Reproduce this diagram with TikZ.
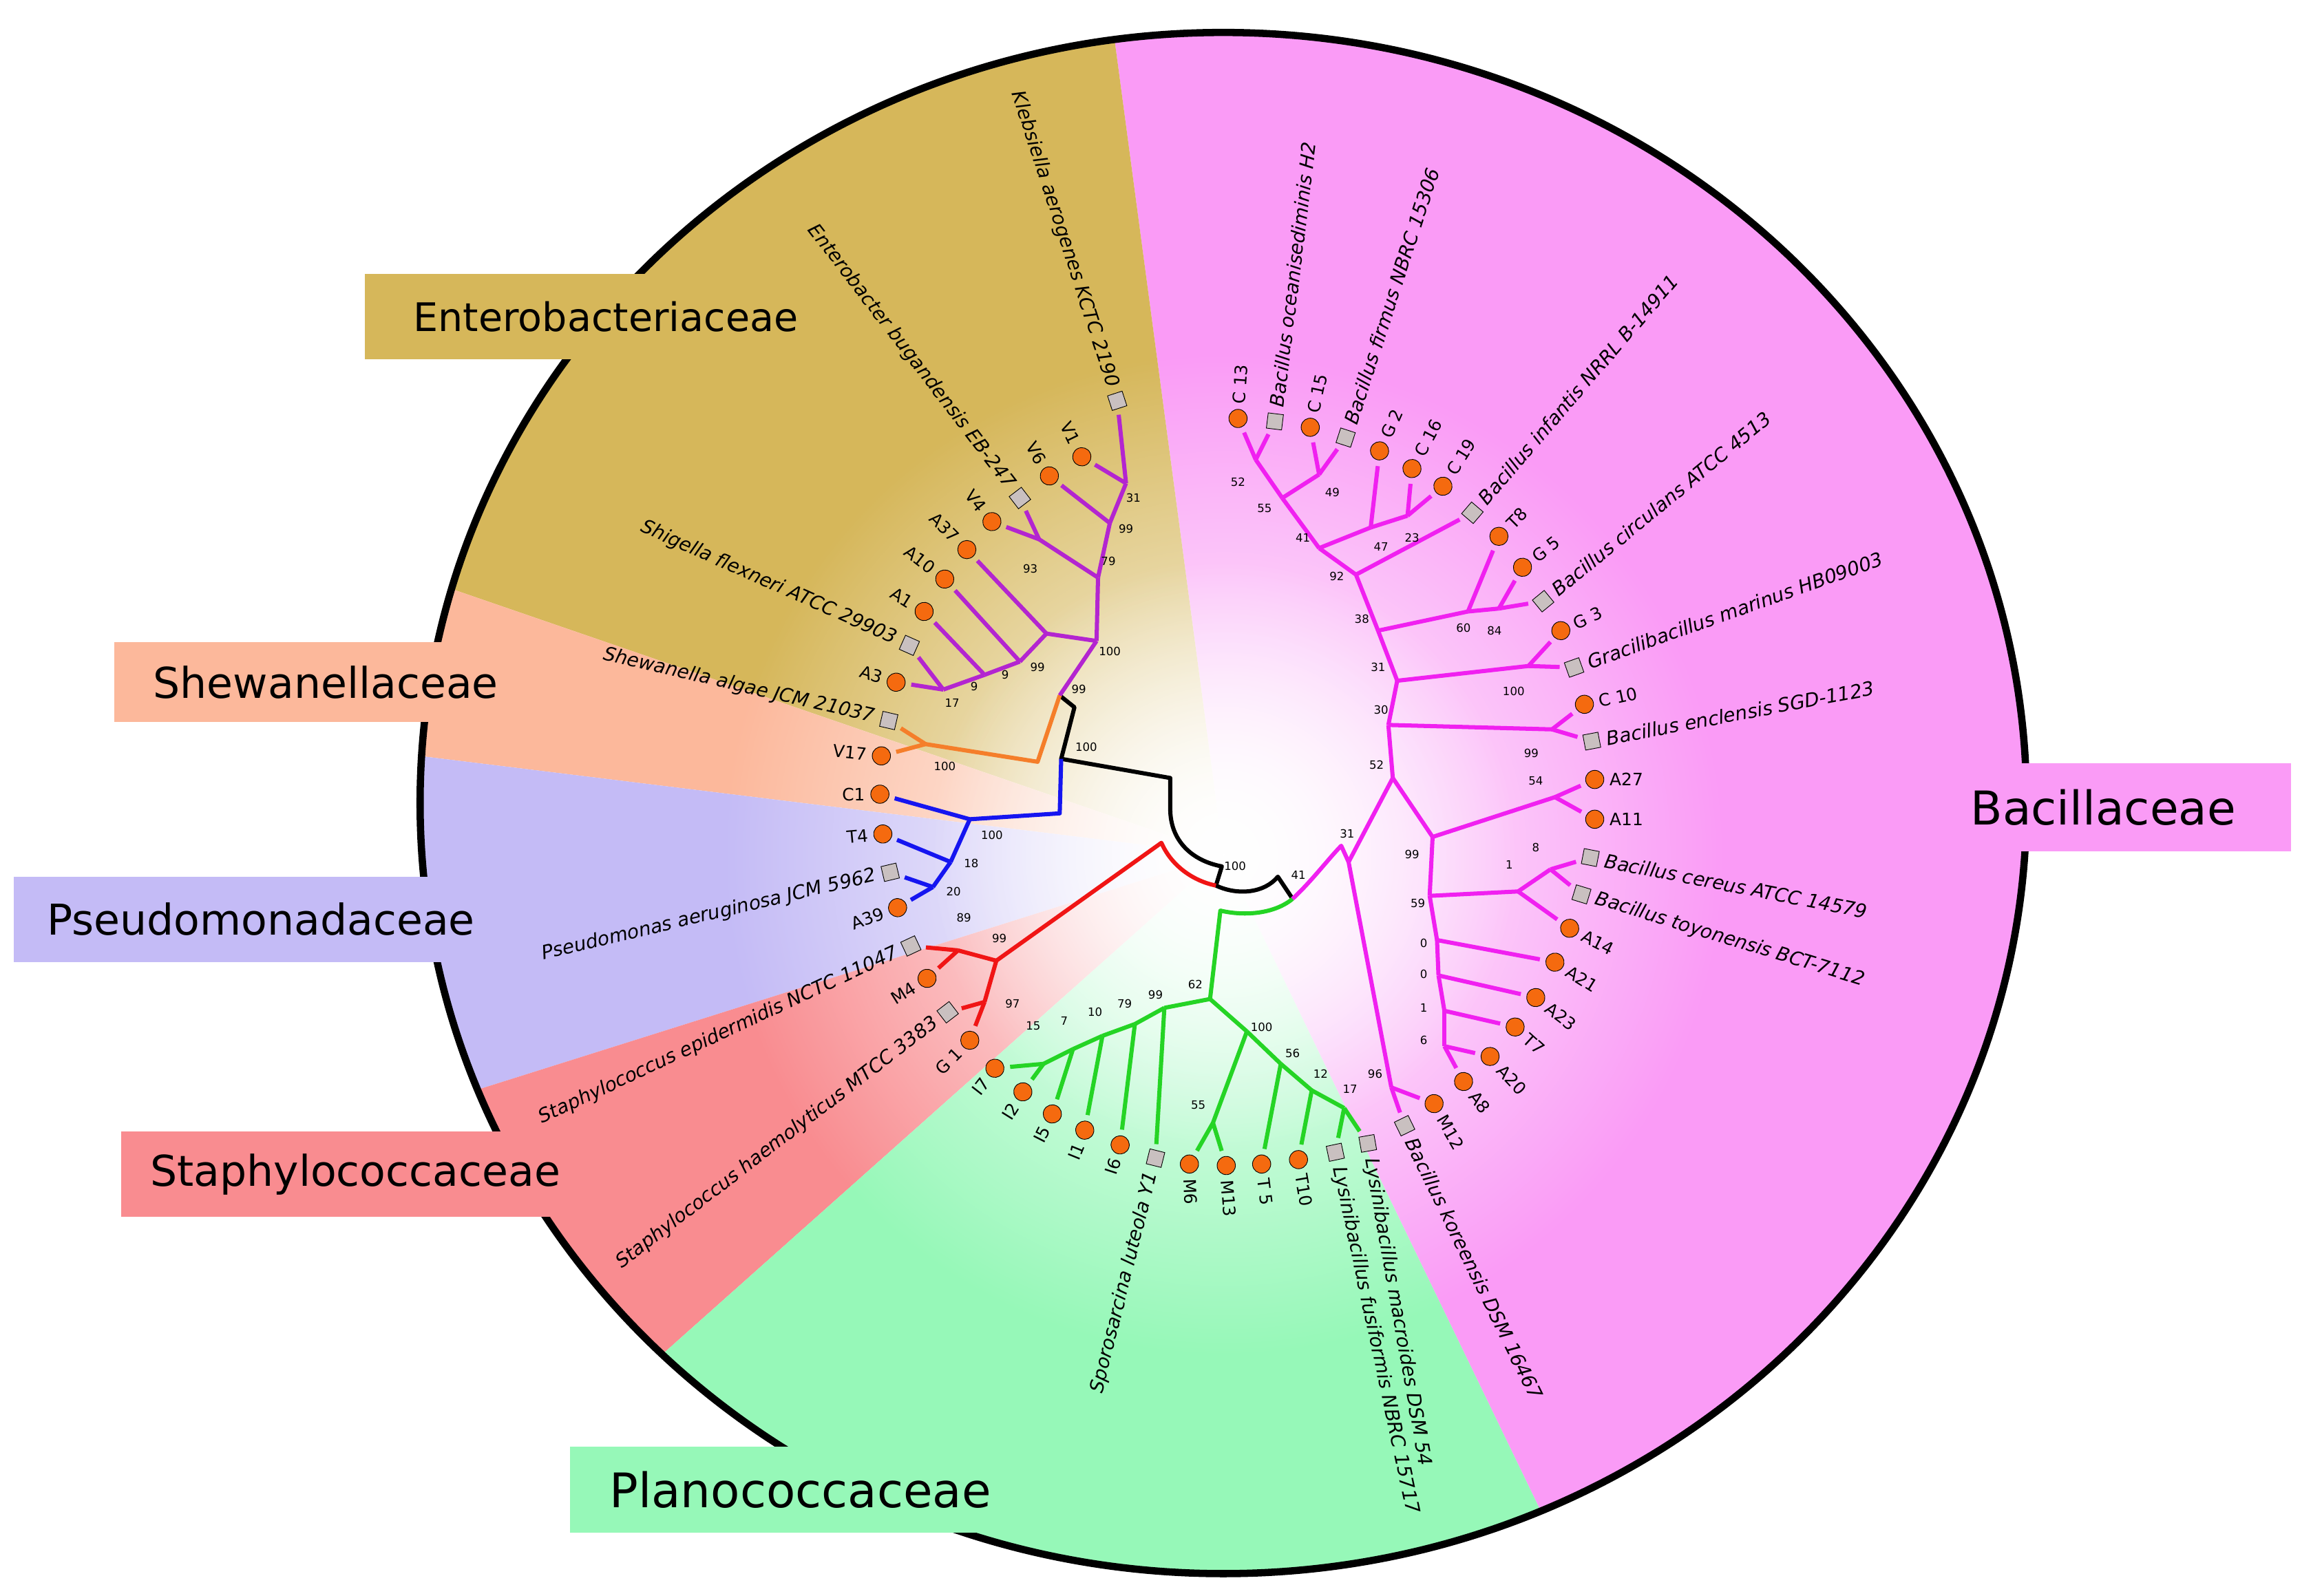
\documentclass[tikz,border=0pt]{standalone}
\usepackage{fontspec}
\setmainfont{DejaVu Sans}
\usetikzlibrary{calc,fadings}
\definecolor{tanC}{HTML}{D6B75A}\definecolor{salC}{HTML}{FCB89B}\definecolor{lavC}{HTML}{C4BBF6}
\definecolor{redC}{HTML}{F98C90}\definecolor{grnC}{HTML}{96F8B8}\definecolor{pnkC}{HTML}{FA9BF6}
\definecolor{purB}{HTML}{B325D0}\definecolor{oraB}{HTML}{F57E2A}\definecolor{bluB}{HTML}{1515F0}
\definecolor{redB}{HTML}{F01515}\definecolor{grnB}{HTML}{25D425}\definecolor{pnkB}{HTML}{F020F0}
\definecolor{dotC}{HTML}{F56A0F}\definecolor{sqC}{HTML}{C9C0C0}
\tikzfading[name=myfade, inner color=transparent!0, outer color=transparent!100]
\tikzset{
 circ/.style={circle,draw=black,line width=0.6pt,fill=dotC,minimum size=0.62cm,inner sep=0},
 sq/.style={rectangle,draw=black,line width=0.6pt,fill=sqC,minimum size=0.52cm,inner sep=0},
 lab/.style={inner sep=0,font=\fontsize{16.5}{17}\selectfont},
 spl/.style={inner sep=0,font=\fontsize{18.5}{19}\selectfont\itshape},
 sup/.style={inner sep=0,font=\fontsize{11}{12}\selectfont},
 br/.style={line width=4pt,line join=round},
 tl/.style={br,shorten >=0.2cm},
 fam/.style={inner sep=0,minimum height=2.9cm,text=black}
}
\newcommand\LL[7]{\node[#4,rotate=#5] (#1) at (#2,-#3) {};
 \node[#6,rotate=#5,anchor=east] (#1t) at ($(#1)+(#5+180:10)$) {#7};}
\newcommand\RR[7]{\node[#4,rotate=#5] (#1) at (#2,-#3) {};
 \node[#6,rotate=#5,anchor=west] (#1t) at ($(#1)+(#5:10)$) {#7};}
\newcommand\bs[3]{\node[sup] at (#1,-#2) {#3};}
\begin{document}
\begin{tikzpicture}[x=0.05cm,y=0.05cm]
\useasboundingbox (0,0) rectangle (1568,-1083);
\coordinate (C) at (830,-580);
\begin{scope}
\clip (830,-545) ellipse [x radius=27.25cm, y radius=26.15cm];
\fill[pnkC] (C) -- +(-64.2:900) arc[start angle=-64.2,end angle=97.6,radius=900] -- cycle;
\fill[tanC] (C) -- +(97.6:900) arc[start angle=97.6,end angle=161,radius=900] -- cycle;
\fill[salC] (C) -- +(161:900) arc[start angle=161,end angle=173,radius=900] -- cycle;
\fill[lavC] (C) -- +(173:900) arc[start angle=173,end angle=197.5,radius=900] -- cycle;
\fill[redC] (C) -- +(197.5:900) arc[start angle=197.5,end angle=221.7,radius=900] -- cycle;
\fill[grnC] (C) -- +(221.7:900) arc[start angle=221.7,end angle=295.8,radius=900] -- cycle;
\fill[white,path fading=myfade] (C) circle (340);
\fill[white,path fading=myfade] (C) circle (200);
\end{scope}
\draw[line width=7pt] (830,-545) ellipse [x radius=27.25cm, y radius=26.15cm];
% family boxes
\node[fam,fill=tanC,minimum width=16.35cm,font=\fontsize{38}{40}\selectfont] (fE) at (411,-215) {Enterobacteriaceae};
\node[fam,fill=salC,minimum width=14.35cm,minimum height=2.7cm,font=\fontsize{41}{43}\selectfont] (fS) at (221,-463) {Shewanellaceae};
\node[fam,fill=lavC,minimum width=16.75cm,font=\fontsize{41}{43}\selectfont] (fP) at (177,-624) {Pseudomonadaceae};
\node[fam,fill=redC,minimum width=15.9cm,font=\fontsize{41}{43}\selectfont] (fSt) at (241,-797) {Staphylococcaceae};
\node[fam,fill=grnC,minimum width=15.65cm,font=\fontsize{46}{48}\selectfont] (fPl) at (543,-1011) {Planococcaceae};
\node[fam,fill=pnkC,minimum width=12.75cm,minimum height=3cm,font=\fontsize{45}{47}\selectfont] (fB) at (1427,-548) {Bacillaceae};
% leaves
\LL{Kle}{758}{272}{sq}{-72}{spl}{Klebsiella aerogenes KCTC 2190}
\LL{V1}{734}{310}{circ}{-64}{lab}{V1}
\LL{V6}{712}{323}{circ}{-60}{lab}{V6}
\LL{Ent}{692}{338}{sq}{-52.5}{spl}{Enterobacter bugandensis EB-247}
\LL{V4}{673}{354}{circ}{-52}{lab}{V4}
\LL{A37}{656}{373}{circ}{-45}{lab}{A37}
\LL{A10}{641}{393}{circ}{-38}{lab}{A10}
\LL{A1}{627}{415}{circ}{-32}{lab}{A1}
\LL{Shi}{617}{438}{sq}{-24}{spl}{Shigella flexneri ATCC 29903}
\LL{A3}{608}{463}{circ}{-18}{lab}{A3}
\LL{She}{603}{489}{sq}{-13}{spl}{Shewanella algae JCM 21037}
\LL{V17}{598}{513}{circ}{-6}{lab}{V17}
\LL{C1}{597}{539}{circ}{0}{lab}{C1}
\LL{T4}{599}{566}{circ}{5}{lab}{T4}
\LL{Pse}{604}{592}{sq}{13.3}{spl}{Pseudomonas aeruginosa JCM 5962}
\LL{A39}{609}{616}{circ}{20}{lab}{A39}
\LL{Sep}{618}{642}{sq}{25}{spl}{Staphylococcus epidermidis NCTC 11047}
\LL{M4}{629}{664}{circ}{32}{lab}{M4}
\LL{Sha}{643}{687}{sq}{37.5}{spl}{Staphylococcus haemolyticus MTCC 3383}
\LL{G1}{658}{706}{circ}{45}{lab}{G 1}
\LL{I7}{675}{725}{circ}{52}{lab}{I7}
\LL{I2}{694}{741}{circ}{58}{lab}{I2}
\LL{I5}{714}{756}{circ}{63}{lab}{I5}
\LL{I1}{736}{767}{circ}{68}{lab}{I1}
\LL{I6}{760}{777}{circ}{72}{lab}{I6}
\LL{Spo}{784}{786}{sq}{76}{spl}{Sporosarcina luteola Y1}
\RR{M6}{807}{790}{circ}{-88}{lab}{M6}
\RR{M13}{832}{791}{circ}{-86}{lab}{M13}
\RR{T5}{856}{790}{circ}{-83}{lab}{T 5}
\RR{T10}{881}{787}{circ}{-80}{lab}{T10}
\RR{Lfu}{906}{782}{sq}{-78}{spl}{Lysinibacillus fusiformis NBRC 15717}
\RR{Lma}{928}{776}{sq}{-80}{spl}{Lysinibacillus macroides DSM 54}
\RR{Bko}{953}{764}{sq}{-64}{spl}{Bacillus koreensis DSM 16467}
\RR{M12}{973}{749}{circ}{-60}{lab}{M12}
\RR{A8}{993}{734}{circ}{-52}{lab}{A8}
\RR{A20}{1011}{717}{circ}{-47}{lab}{A20}
\RR{T7}{1028}{697}{circ}{-42}{lab}{T7}
\RR{A23}{1042}{677}{circ}{-37}{lab}{A23}
\RR{A21}{1055}{653}{circ}{-32}{lab}{A21}
\RR{A14}{1065}{630}{circ}{-27}{lab}{A14}
\RR{Bto}{1073}{607}{sq}{-17}{spl}{Bacillus toyonensis BCT-7112}
\RR{Bce}{1079}{582}{sq}{-11}{spl}{Bacillus cereus ATCC 14579}
\RR{A11}{1082}{556}{circ}{0}{lab}{A11}
\RR{A27}{1082}{529}{circ}{0}{lab}{A27}
\RR{Ben}{1080}{503}{sq}{10.7}{spl}{Bacillus enclensis SGD-1123}
\RR{C10}{1075}{478}{circ}{12}{lab}{C 10}
\RR{Gma}{1068}{453}{sq}{19.6}{spl}{Gracilibacillus marinus HB09003}
\RR{G3}{1059}{428}{circ}{25}{lab}{G 3}
\RR{Bci}{1047}{408}{sq}{39.5}{spl}{Bacillus circulans ATCC 4513}
\RR{G5}{1033}{385}{circ}{38}{lab}{G 5}
\RR{T8}{1017}{364}{circ}{45}{lab}{T8}
\RR{Bin}{999}{348}{sq}{49.4}{spl}{Bacillus infantis NRRL B-14911}
\RR{C19}{979}{330}{circ}{58}{lab}{C 19}
\RR{C16}{958}{318}{circ}{62}{lab}{C 16}
\RR{G2}{936}{306}{circ}{66}{lab}{G 2}
\RR{Bfi}{913}{297}{sq}{72}{spl}{Bacillus firmus NBRC 15306}
\RR{C15}{889}{290}{circ}{78}{lab}{C 15}
\RR{Boc}{865}{286}{sq}{83}{spl}{Bacillus oceanisediminis H2}
\RR{C13}{840}{284}{circ}{86}{lab}{C 13}
% internal nodes
\foreach \n/\x/\y in {e31/764/328,e99a/753/355,e93/705/366,e79/745/392,e100/744/435,e99b/710/430,
 e9a/692/449,e9b/668/458,e17/640/468,E/719/472,Ej/729/480,J/720/515,Oj/704/517,s100/628/505,
 bj/719/552,b100/658/556,b18/645/585,b20/633/602,B1/794/528,B2/794/549,B3/829/588,K/825/601,
 B4/867/595,R41/877/610,Rr/788/572,s99/676/652,s89/650/645,s97/668/680,Gg/828/618,
 g62/821/678,g99/790/684,g79/770/695,g10/748/703,g7/728/712,g15/708/722,g100/846/700,
 g55/823/762,g56/869/722,g12/890/740,g17/912/752,Pp/910/574,
 p52a/852/312,p49/895/322,p55/870/338,p23/955/350,p47/930/358,p41/895/372,p92/920/390,
 p84/1017/413,p60/996/415,p38/935/428,p100/1037/452,p31b/948/462,p99c/1053/495,p30/942/492,
 p54/1055/541,p8/1052/590,p1a/1030/605,p6/980/710,p1b/980/686,p0b/976/662,p0a/975/638,
 p59/970/608,p99b/972/568,p52/945/528,p96/944/738,p31/915/585}
 {\coordinate (\n) at (\x,-\y);}
% black backbone
\draw[br,black] (E) -- (Ej) -- (J) -- (B1) -- (B2) .. controls (794,-570) and (808,-584) .. (B3) -- (K)
 .. controls (840,-608) and (858,-606) .. (B4) -- (R41);
% Enterobacteriaceae
\begin{scope}[purB]
\draw[tl] (e31) -- (Kle); \draw[tl] (e31) -- (V1);
\draw[br] (e99a) -- (e31); \draw[tl] (e99a) -- (V6);
\draw[tl] (e93) -- (Ent); \draw[tl] (e93) -- (V4);
\draw[br] (e79) -- (e99a); \draw[br] (e79) -- (e93);
\draw[br] (e100) -- (e79); \draw[br] (e100) -- (e99b);
\draw[tl] (e99b) -- (A37); \draw[br] (e99b) -- (e9a);
\draw[tl] (e9a) -- (A10); \draw[br] (e9a) -- (e9b);
\draw[tl] (e9b) -- (A1); \draw[br] (e9b) -- (e17);
\draw[tl] (e17) -- (Shi); \draw[tl] (e17) -- (A3);
\draw[br] (E) -- (e100);
\end{scope}
\begin{scope}[oraB]
\draw[br] (E) -- (Oj) -- (s100); \draw[tl] (s100) -- (She); \draw[tl] (s100) -- (V17);
\end{scope}
\begin{scope}[bluB]
\draw[br] (J) -- (bj) -- (b100); \draw[tl] (b100) -- (C1); \draw[br] (b100) -- (b18);
\draw[tl] (b18) -- (T4); \draw[br] (b18) -- (b20); \draw[tl] (b20) -- (Pse); \draw[tl] (b20) -- (A39);
\end{scope}
\begin{scope}[redB]
\draw[br] (K) .. controls (810,-598) and (795,-588) .. (Rr) -- (s99);
\draw[br] (s99) -- (s89); \draw[br] (s99) -- (s97);
\draw[tl] (s89) -- (Sep); \draw[tl] (s89) -- (M4); \draw[tl] (s97) -- (Sha); \draw[tl] (s97) -- (G1);
\end{scope}
\begin{scope}[grnB]
\draw[br] (R41) .. controls (865,-620) and (845,-622) .. (Gg) -- (g62);
\draw[br] (g62) -- (g99); \draw[br] (g62) -- (g100);
\draw[br] (g99) -- (g79); \draw[tl] (g99) -- (Spo);
\draw[br] (g79) -- (g10); \draw[tl] (g79) -- (I6);
\draw[br] (g10) -- (g7); \draw[tl] (g10) -- (I1);
\draw[br] (g7) -- (g15); \draw[tl] (g7) -- (I5);
\draw[tl] (g15) -- (I7); \draw[tl] (g15) -- (I2);
\draw[br] (g100) -- (g55); \draw[br] (g100) -- (g56);
\draw[tl] (g55) -- (M6); \draw[tl] (g55) -- (M13);
\draw[tl] (g56) -- (T5); \draw[br] (g56) -- (g12);
\draw[tl] (g12) -- (T10); \draw[br] (g12) -- (g17);
\draw[tl] (g17) -- (Lfu); \draw[tl] (g17) -- (Lma);
\end{scope}
\begin{scope}[pnkB]
\draw[br] (R41) .. controls (890,-598) and (902,-582) .. (Pp) -- (p31);
\draw[br] (p31) -- (p52); \draw[br] (p31) -- (p96);
\draw[tl] (p96) -- (Bko); \draw[tl] (p96) -- (M12);
\draw[br] (p52) -- (p30); \draw[br] (p52) -- (p99b);
\draw[br] (p99b) -- (p54); \draw[br] (p99b) -- (p59);
\draw[tl] (p54) -- (A27); \draw[tl] (p54) -- (A11);
\draw[br] (p59) -- (p1a); \draw[br] (p59) -- (p0a);
\draw[br] (p1a) -- (p8); \draw[tl] (p1a) -- (A14);
\draw[tl] (p8) -- (Bce); \draw[tl] (p8) -- (Bto);
\draw[br] (p0a) -- (p0b); \draw[tl] (p0a) -- (A21);
\draw[br] (p0b) -- (p1b); \draw[tl] (p0b) -- (A23);
\draw[br] (p1b) -- (p6); \draw[tl] (p1b) -- (T7);
\draw[tl] (p6) -- (A20); \draw[tl] (p6) -- (A8);
\draw[br] (p30) -- (p31b); \draw[br] (p30) -- (p99c);
\draw[tl] (p99c) -- (C10); \draw[tl] (p99c) -- (Ben);
\draw[br] (p31b) -- (p38); \draw[br] (p31b) -- (p100);
\draw[tl] (p100) -- (G3); \draw[tl] (p100) -- (Gma);
\draw[br] (p38) -- (p92); \draw[br] (p38) -- (p60);
\draw[tl] (p60) -- (T8); \draw[br] (p60) -- (p84);
\draw[tl] (p84) -- (G5); \draw[tl] (p84) -- (Bci);
\draw[br] (p92) -- (p41); \draw[tl] (p92) -- (Bin);
\draw[br] (p41) -- (p55); \draw[br] (p41) -- (p47);
\draw[tl] (p47) -- (G2); \draw[br] (p47) -- (p23);
\draw[tl] (p23) -- (C16); \draw[tl] (p23) -- (C19);
\draw[br] (p55) -- (p52a); \draw[br] (p55) -- (p49);
\draw[tl] (p52a) -- (C13); \draw[tl] (p52a) -- (Boc);
\draw[tl] (p49) -- (C15); \draw[tl] (p49) -- (Bfi);
\end{scope}
% support values
\bs{769}{338}{31}\bs{764}{359}{99}\bs{699}{386}{93}\bs{752}{381}{79}\bs{753}{442}{100}
\bs{704}{453}{99}\bs{682}{458}{9}\bs{661}{466}{9}\bs{646}{477}{17}\bs{732}{468}{99}
\bs{737}{507}{100}\bs{641}{520}{100}\bs{673}{567}{100}\bs{659}{586}{18}\bs{647}{605}{20}
\bs{838}{588}{100}\bs{881}{594}{41}
\bs{840}{327}{52}\bs{858}{345}{55}\bs{904}{334}{49}\bs{884}{365}{41}\bs{937}{371}{47}
\bs{958}{365}{23}\bs{907}{391}{92}\bs{924}{420}{38}\bs{993}{426}{60}\bs{1014}{428}{84}
\bs{935}{453}{31}\bs{1027}{469}{100}\bs{937}{482}{30}\bs{1039}{511}{99}\bs{934}{519}{52}
\bs{1042}{530}{54}\bs{958}{580}{99}\bs{962}{613}{59}\bs{1042}{575}{8}\bs{1024}{587}{1}
\bs{966}{640}{0}\bs{966}{661}{0}\bs{966}{684}{1}\bs{966}{706}{6}\bs{933}{729}{96}\bs{914}{566}{31}
\bs{811}{668}{62}\bs{784}{675}{99}\bs{763}{681}{79}\bs{743}{687}{10}\bs{722}{693}{7}\bs{701}{696}{15}
\bs{856}{697}{100}\bs{813}{750}{55}\bs{877}{715}{56}\bs{896}{729}{12}\bs{916}{739}{17}
\bs{654}{623}{89}\bs{678}{637}{99}\bs{687}{681}{97}
\end{tikzpicture}
\end{document}
